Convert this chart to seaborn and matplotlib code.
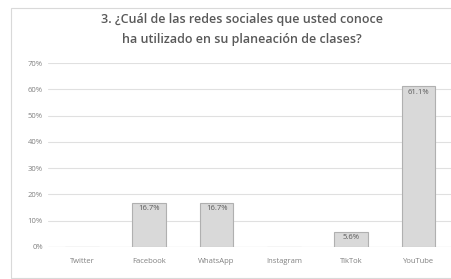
import matplotlib.pyplot as plt
from matplotlib.patches import Rectangle
from matplotlib.ticker import PercentFormatter
import pandas as pd
import seaborn as sns

redes = ["Twitter", "Facebook", "WhatsApp", "Instagram", "TikTok", "YouTube"]
porcentajes = [0.0, 16.7, 16.7, 0.0, 5.6, 61.1]
etiquetas = ["", "16.7%", "16.7%", "", "5.6%", "61.1%"]
titulo = "3. ¿Cuál de las redes sociales que usted conoce\nha utilizado en su planeación de clases?"

df = pd.DataFrame({"Red": redes, "Pct": porcentajes})

sns.set_theme(style="white")
plt.rcParams["font.family"] = ["Open Sans", "DejaVu Sans"]

fig = plt.figure(figsize=(4.52, 2.79), dpi=100)
ax = fig.add_axes((0.107, 0.115, 0.893, 0.659))

sns.barplot(
    data=df,
    x="Red",
    y="Pct",
    color="#d9d9d9",
    edgecolor="#b0b0b0",
    linewidth=0.8,
    width=0.5,
    saturation=1,
    ax=ax,
    zorder=3,
)

for patch, txt in zip(ax.patches, etiquetas):
    if txt:
        ax.text(
            patch.get_x() + patch.get_width() / 2,
            patch.get_height() - 0.8,
            txt,
            ha="center",
            va="top",
            fontsize=5.5,
            color="#595959",
            zorder=4,
        )

ax.set_ylim(0, 70)
ax.set_yticks(range(0, 71, 10))
ax.yaxis.set_major_formatter(PercentFormatter(decimals=0))
ax.grid(axis="y", color="#e0e0e0", linewidth=0.8, zorder=0)
ax.set_xlabel("")
ax.set_ylabel("")
ax.tick_params(axis="both", labelsize=5.5, colors="#808080", length=0)
ax.tick_params(axis="x", pad=8)
ax.tick_params(axis="y", pad=4)
for spine in ax.spines.values():
    spine.set_visible(False)
ax.axhline(0, color="#d0d0d0", linewidth=0.8, zorder=2)

fig.text(
    0.535,
    0.896,
    titulo,
    ha="center",
    va="center",
    fontsize=9,
    fontweight="semibold",
    color="#595959",
    linespacing=1.7,
)
fig.patches.append(
    Rectangle((0.024, 0.005), 0.98, 0.965, transform=fig.transFigure, fill=False, edgecolor="#d9d9d9", linewidth=0.8)
)

fig.savefig("out.png", dpi=100)
